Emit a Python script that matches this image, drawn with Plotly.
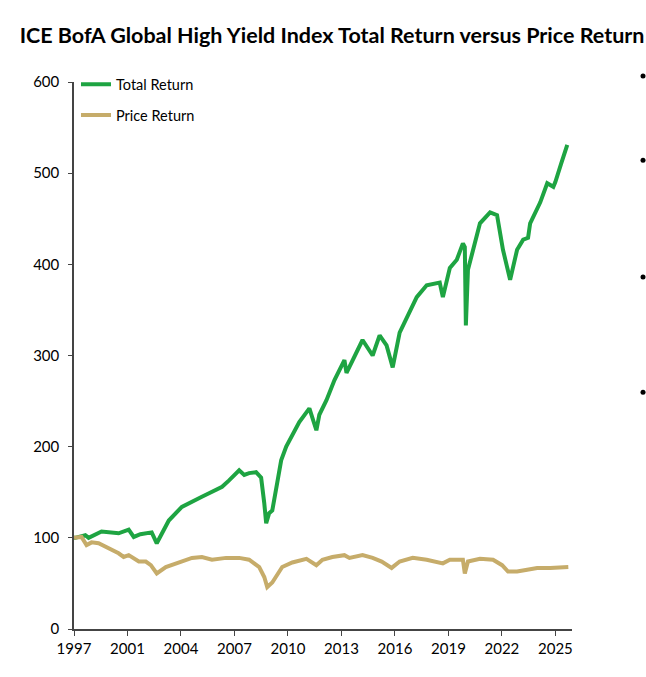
import plotly.graph_objects as go

# Decimal-year positions on the chart's time axis (first point = end of 1997)
total_x = [1998.0, 1998.07, 1998.65, 1998.84, 1999.58, 2000.56, 2001.14, 2001.43, 2001.81, 2002.29,
           2002.46, 2002.75, 2003.44, 2004.19, 2005.00, 2005.34, 2005.75, 2006.50, 2006.90, 2007.48,
           2007.77, 2008.05, 2008.45, 2008.74, 2008.92, 2009.03, 2009.20, 2009.38, 2009.66, 2009.89,
           2010.18, 2010.47, 2010.93, 2011.51, 2011.91, 2012.08, 2012.49, 2012.95, 2013.23, 2013.52,
           2013.64, 2014.56, 2015.14, 2015.54, 2015.94, 2016.29, 2016.69, 2017.09, 2017.67, 2018.24,
           2018.59, 2018.99, 2019.17, 2019.57, 2019.97, 2020.32, 2020.43, 2020.49, 2020.61, 2020.90,
           2021.30, 2021.88, 2022.28, 2022.62, 2023.03, 2023.43, 2023.78, 2024.06, 2024.18, 2024.76,
           2025.16, 2025.51, 2025.62, 2025.95, 2026.31]
total_return = [100, 100, 103, 100, 107, 105, 109, 101, 104, 105,
                106, 94, 119, 134, 141, 145, 149, 156, 163, 174,
                169, 171, 172, 166, 138, 116, 127, 130, 160, 185,
                200, 211, 227, 242, 218, 235, 251, 273, 284, 295,
                281, 317, 300, 322, 311, 287, 325, 342, 364, 377,
                378, 380, 364, 396, 405, 423, 419, 333, 394, 416,
                445, 457, 454, 416, 383, 416, 427, 429, 445, 468,
                489, 485, 490, 510, 531]

price_x = [1998.0, 1998.43, 1998.72, 1999.01, 1999.41, 1999.99, 2000.56, 2000.85, 2001.14, 2001.72,
           2002.12, 2002.41, 2002.75, 2003.27, 2004.02, 2004.77, 2005.34, 2005.92, 2006.73, 2007.48,
           2008.05, 2008.63, 2008.92, 2009.09, 2009.38, 2009.95, 2010.53, 2011.34, 2011.91, 2012.26,
           2012.83, 2013.52, 2013.81, 2014.56, 2015.14, 2015.66, 2016.23, 2016.69, 2017.44, 2018.24,
           2019.17, 2019.57, 2020.32, 2020.43, 2020.61, 2021.30, 2022.05, 2022.57, 2022.91, 2023.43,
           2024.01, 2024.58, 2025.33, 2025.90, 2026.37]
price_return = [100, 101, 92, 95, 94, 89, 83, 79, 81, 74,
                74, 70, 61, 68, 73, 78, 79, 76, 78, 78,
                76, 68, 57, 46, 51, 68, 73, 77, 70, 76,
                79, 81, 78, 81, 78, 74, 67, 74, 78, 76,
                72, 76, 76, 61, 74, 77, 76, 70, 63, 63,
                65, 67, 67, 68, 68]

tick_step = 3.07
tick_labels = ["1997", "2001", "2004", "2007", "2010", "2013", "2016", "2019", "2022", "2025"]
tick_vals = [1998.0 + i * tick_step for i in range(len(tick_labels))]

FONT = "Lato"
fig = go.Figure()
fig.add_trace(go.Scatter(x=total_x, y=total_return, mode="lines", name="Total Return",
                         legendgroup="a",
                         line=dict(color="#1EA442", width=4)))
fig.add_trace(go.Scatter(x=price_x, y=price_return, mode="lines", name="Price Return",
                         legendgroup="b",
                         line=dict(color="#C6AC6A", width=4)))

# bullet dots at right edge
for yp in [1.011, 0.857, 0.6435, 0.433]:
    fig.add_shape(type="circle", xref="paper", yref="paper",
                  xsizemode="pixel", ysizemode="pixel",
                  xanchor=1.1426, yanchor=yp, x0=-2.5, x1=2.5, y0=-2.5, y1=2.5,
                  fillcolor="black", line=dict(width=0))

fig.update_layout(
    width=646, height=677,
    margin=dict(l=74, r=74, t=82, b=48),
    paper_bgcolor="white", plot_bgcolor="white",
    font=dict(family=FONT, size=14, color="black"),
    title=dict(text="<b>ICE BofA Global High Yield Index Total Return versus Price Return</b>",
               x=0.514, xanchor="center", y=0.948, yanchor="middle",
               font=dict(family=FONT, size=21.5, color="black")),
    showlegend=True,
    legend=dict(x=0.004, y=1.025, xanchor="left", yanchor="top", bgcolor="rgba(0,0,0,0)",
                traceorder="grouped", tracegroupgap=9,
                font=dict(family=FONT, size=14.5, color="black")),
    xaxis=dict(range=[1998.0, 1998.0 + 9.31 * tick_step], tickmode="array",
               tickvals=tick_vals, ticktext=tick_labels,
               showgrid=False, zeroline=False, showline=True, linecolor="#444444", linewidth=1.5,
               ticks="outside", ticklen=5, tickcolor="#444444", tickfont=dict(size=15)),
    yaxis=dict(range=[0, 600], tickmode="array", tickvals=[0, 100, 200, 300, 400, 500, 600],
               showgrid=False, zeroline=False, showline=True, linecolor="#444444", linewidth=1.5,
               ticks="outside", ticklen=4, tickcolor="#444444", ticklabelstandoff=6,
               tickfont=dict(size=15)),
)

fig.write_html("out.html")
